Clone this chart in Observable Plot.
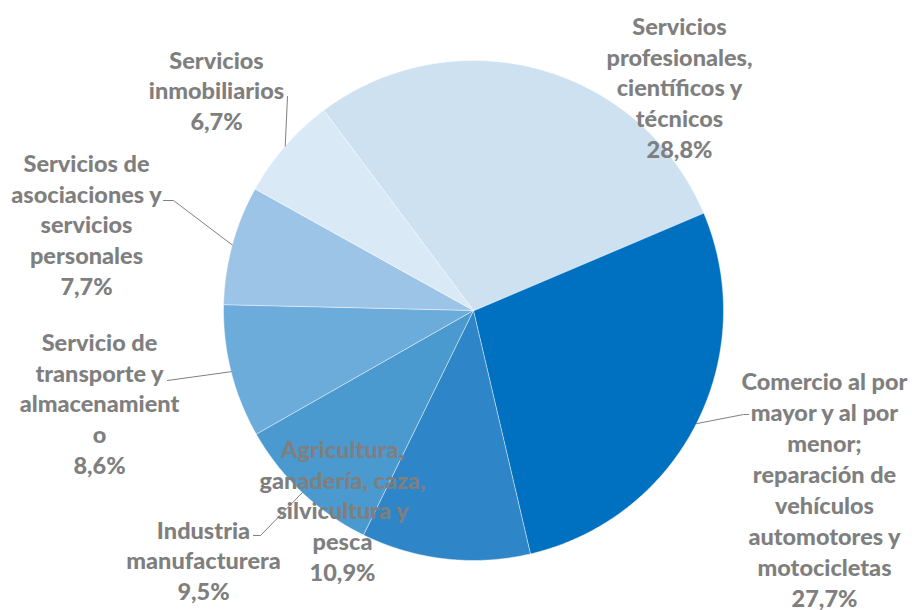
<!DOCTYPE html>
<html>
<head>
<meta charset="utf-8">
<script src="https://cdn.jsdelivr.net/npm/d3@7"></script>
<script src="https://cdn.jsdelivr.net/npm/@observablehq/plot@0.6"></script>
<style>
  html, body { margin: 0; padding: 0; background: #ffffff; }
  #chart svg { display: block; }
</style>
</head>
<body>
<div id="chart"></div>
<script>
// ---- data ----
const categories = [
  "Comercio al por mayor y al por menor; reparación de vehículos automotores y motocicletas",
  "Agricultura, ganadería, caza, silvicultura y pesca",
  "Industria manufacturera",
  "Servicio de transporte y almacenamiento",
  "Servicios de asociaciones y servicios personales",
  "Servicios inmobiliarios",
  "Servicios profesionales, científicos y técnicos"
];
const values = [27.7, 10.9, 9.5, 8.6, 7.7, 6.7, 28.8];
const labelLines = [
  "Comercio al por\nmayor y al por\nmenor;\nreparación de\nvehículos\nautomotores y\nmotocicletas",
  "Agricultura,\nganadería, caza,\nsilvicultura y\npesca",
  "Industria\nmanufacturera",
  "Servicio de\ntransporte y\nalmacenamient\no",
  "Servicios de\nasociaciones y\nservicios\npersonales",
  "Servicios\ninmobiliarios",
  "Servicios\nprofesionales,\ncientíficos y\ntécnicos"
];

// ---- style / layout ----
const colors = ["#0070C0", "#2E86C8", "#4A9AD0", "#6CACDB", "#9CC4E6", "#DAE9F6", "#CDE1F1"];
const startDeg = 67;
// label block centers (in pie-radius units)
const labelAnchor = [
  [1.404, -0.712], [-0.524, -0.796], [-1.08, -0.996], [-1.496, -0.368],
  [-1.548, 0.348], [-1.028, 0.884], [0.824, 0.896]
];
// leader line end segments (label side), null when none
const leaderEnds = [
  [[1.08, -0.416], [1.10, -0.416]],
  null,
  [[-0.852, -0.9], [-0.88, -0.9]],
  [[-1.224, -0.28]],
  [[-1.20, 0.44], [-1.24, 0.44]],
  [[-0.744, 0.856]],
  null
];

const fmt = v => v.toFixed(1).replace(".", ",") + "%";

const a0 = startDeg * Math.PI / 180;
const arcs = d3.pie().sort(null).value(d => d).startAngle(a0).endAngle(a0 + 2 * Math.PI)(values);

const slicePts = [];
arcs.forEach((a, i) => {
  const cat = categories[i];
  slicePts.push({cat, x: 0, y: 0});
  const n = Math.max(2, Math.ceil((a.endAngle - a.startAngle) / (Math.PI / 360)));
  for (let k = 0; k <= n; k++) {
    const t = a.startAngle + (a.endAngle - a.startAngle) * k / n;
    slicePts.push({cat, x: Math.sin(t), y: Math.cos(t)});
  }
});

const leaders = [];
arcs.forEach((a, i) => {
  if (!leaderEnds[i]) return;
  const m = (a.startAngle + a.endAngle) / 2;
  leaders.push({cat: categories[i], x: Math.sin(m), y: Math.cos(m)});
  leaderEnds[i].forEach(([x, y]) => leaders.push({cat: categories[i], x, y}));
});

const labels = categories.map((c, i) => ({
  cat: c,
  text: labelLines[i] + "\n" + fmt(values[i]),
  x: labelAnchor[i][0],
  y: labelAnchor[i][1]
}));

const chart = Plot.plot({
  width: 912,
  height: 610,
  marginLeft: 223,
  marginRight: 189,
  marginTop: 60,
  marginBottom: 50,
  x: {domain: [-1, 1], axis: null},
  y: {domain: [-1, 1], axis: null},
  color: {domain: categories, range: colors},
  style: {background: "#ffffff", overflow: "visible"},
  marks: [
    Plot.line(slicePts, {x: "x", y: "y", z: "cat", fill: "cat", stroke: "#ffffff", strokeWidth: 0.8, strokeOpacity: 0.6, curve: "linear-closed"}),
    Plot.line(leaders, {x: "x", y: "y", z: "cat", stroke: "#7f7f7f", strokeWidth: 1}),
    Plot.text(labels, {
      x: "x", y: "y", text: "text",
      fill: "#7f7f7f",
      fontFamily: "Lato",
      fontWeight: 900,
      fontSize: 23.5,
      lineHeight: 1.315,
      textAnchor: "middle",
      lineAnchor: "middle"
    })
  ]
});
document.getElementById("chart").appendChild(chart);
</script>
</body>
</html>
